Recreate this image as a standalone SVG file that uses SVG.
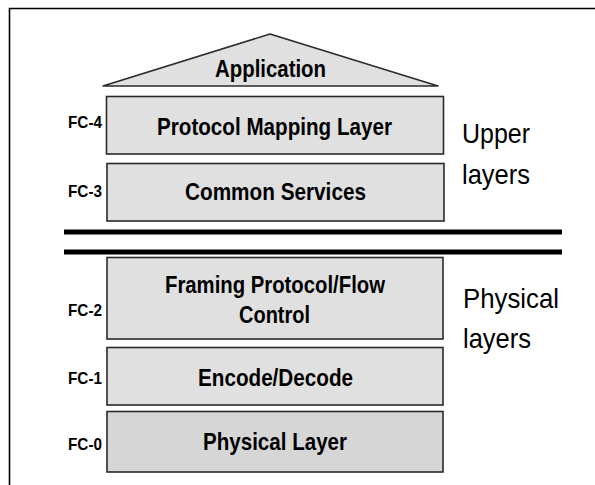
<svg xmlns="http://www.w3.org/2000/svg" width="595" height="485" viewBox="0 0 595 485">
<style>
.box{fill:#e0e0e0;stroke:#2a2a2a;stroke-width:1.6}
.box0{fill:#d6d6d6;stroke:#2a2a2a;stroke-width:1.6}
.t{font-family:"Liberation Sans",Arial,sans-serif;font-weight:bold;font-size:24px;fill:#000;text-anchor:middle}
.fc{font-family:"Liberation Sans",Arial,sans-serif;font-weight:bold;font-size:16.5px;fill:#000;text-anchor:end}
.side{font-family:"Liberation Sans",Arial,sans-serif;font-size:28px;fill:#000}
.bar{stroke:#000;stroke-width:5}
</style>
<rect width="595" height="485" fill="#fff"/>
<path d="M9.5 485 V8.5 H595" fill="none" stroke="#000" stroke-width="1.6"/>
<g id="application">
<polygon points="103,86 270,34 438,86" fill="#e0e0e0" stroke="#2a2a2a" stroke-width="1.6" stroke-linejoin="round"/>
<text class="t" x="270.5" y="77" textLength="111" lengthAdjust="spacingAndGlyphs">Application</text>
</g>
<g id="fc4">
<rect class="box" x="106.5" y="96.5" width="337" height="57.5"/>
<text class="t" x="274.5" y="135" textLength="235" lengthAdjust="spacingAndGlyphs">Protocol Mapping Layer</text>
<text class="fc" x="102" y="128" textLength="34" lengthAdjust="spacingAndGlyphs">FC-4</text>
</g>
<g id="fc3">
<rect class="box" x="107" y="163.5" width="337" height="57.5"/>
<text class="t" x="275.5" y="200" textLength="181" lengthAdjust="spacingAndGlyphs">Common Services</text>
<text class="fc" x="102" y="197" textLength="34" lengthAdjust="spacingAndGlyphs">FC-3</text>
</g>
<g id="connectors">
<line class="bar" x1="64" y1="232" x2="562" y2="232"/>
<line class="bar" x1="64" y1="252" x2="562" y2="252"/>
</g>
<g id="fc2">
<rect class="box" x="107" y="257.5" width="336" height="81.5"/>
<text class="t" x="275" y="293" textLength="220" lengthAdjust="spacingAndGlyphs">Framing Protocol/Flow</text>
<text class="t" x="274.5" y="323" textLength="71" lengthAdjust="spacingAndGlyphs">Control</text>
<text class="fc" x="102" y="316" textLength="34" lengthAdjust="spacingAndGlyphs">FC-2</text>
</g>
<g id="fc1">
<rect class="box" x="107" y="347.5" width="336" height="57.5"/>
<text class="t" x="275.5" y="386" textLength="155" lengthAdjust="spacingAndGlyphs">Encode/Decode</text>
<text class="fc" x="102" y="384" textLength="34" lengthAdjust="spacingAndGlyphs">FC-1</text>
</g>
<g id="fc0">
<rect class="box0" x="107" y="411.5" width="336" height="60.5"/>
<text class="t" x="275" y="450" textLength="144" lengthAdjust="spacingAndGlyphs">Physical Layer</text>
<text class="fc" x="102" y="450" textLength="34" lengthAdjust="spacingAndGlyphs">FC-0</text>
</g>
<g id="upper-label">
<text class="side" x="462" y="143" textLength="68" lengthAdjust="spacingAndGlyphs">Upper</text>
<text class="side" x="462" y="184" textLength="68" lengthAdjust="spacingAndGlyphs">layers</text>
</g>
<g id="physical-label">
<text class="side" x="463" y="308" textLength="96" lengthAdjust="spacingAndGlyphs">Physical</text>
<text class="side" x="463" y="348" textLength="68" lengthAdjust="spacingAndGlyphs">layers</text>
</g>
</svg>
